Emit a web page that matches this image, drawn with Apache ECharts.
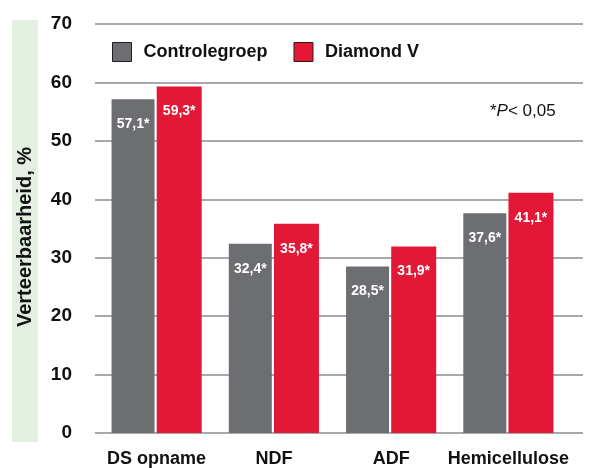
<!DOCTYPE html>
<html>
<head>
<meta charset="utf-8">
<script src="https://cdn.jsdelivr.net/npm/echarts@6/dist/echarts.min.js"></script>
<style>
  html, body { margin: 0; padding: 0; background: #fff; }
  #chart { width: 593px; height: 468px; }
</style>
</head>
<body>
<div id="chart"></div>
<script>
const categories = ['DS opname', 'NDF', 'ADF', 'Hemicellulose'];
const controlValues = [57.1, 32.4, 28.5, 37.6];
const diamondValues = [59.3, 35.8, 31.9, 41.1];
const yTicks = [0, 70, 10]; // min, max, interval

const FONT = '"Liberation Sans", Arial, sans-serif';
const GREY = '#6d6e71';
const RED = '#e31837';

const fmt = (p) => p.value.toFixed(1).replace('.', ',') + '*';

const barLabel = {
  show: true,
  position: 'insideTop',
  distance: 18,
  color: '#fff',
  fontFamily: FONT,
  fontWeight: 'bold',
  fontSize: 14,
  formatter: fmt,
};

const chart = echarts.init(document.getElementById('chart'), null, { renderer: 'canvas' });

chart.setOption({
  animation: false,
  backgroundColor: '#fff',
  graphic: [
    {
      type: 'rect',
      left: 12, top: 20,
      shape: { width: 26, height: 422 },
      style: { fill: '#e3efe1' },
      z: -1,
    },
    {
      type: 'text',
      x: 25, y: 237,
      rotation: Math.PI / 2,
      style: {
        text: 'Verteerbaarheid, %',
        fontFamily: FONT,
        fontWeight: 'bold',
        fontSize: 20,
        fill: '#111',
        align: 'center',
        verticalAlign: 'middle',
      },
    },
    {
      type: 'text',
      left: 490, top: 103,
      style: {
        rich: {
          n: { fontFamily: FONT, fontSize: 17, fill: '#111' },
          i: { fontFamily: FONT, fontSize: 17, fontStyle: 'italic', fill: '#111' },
        },
        text: '{n|*}{i|P}{n|< 0,05}',
      },
    },
  ],
  legend: {
    left: 112, top: 42,
    padding: 0,
    itemWidth: 19, itemHeight: 19,
    itemGap: 26,
    icon: 'rect',
    data: ['Controlegroep', 'Diamond V'],
    itemStyle: { borderColor: '#231f20', borderWidth: 1 },
    textStyle: {
      fontFamily: FONT,
      fontWeight: 'bold',
      fontSize: 18,
      color: '#111',
      padding: [0, 0, 0, 7],
    },
  },
  grid: [
    { left: 95, right: 10, top: 24, bottom: 35 },
    { left: 98, right: 26, top: 24, bottom: 35 },
  ],
  xAxis: [
    { gridIndex: 0, type: 'value', show: false },
    {
      gridIndex: 1,
      type: 'category',
      data: categories,
      axisLine: { show: false },
      axisTick: { show: false },
      axisLabel: {
        interval: 0,
        margin: 17,
        fontFamily: FONT,
        fontWeight: 'bold',
        fontSize: 18,
        color: '#111',
      },
    },
  ],
  yAxis: [
    {
      gridIndex: 0,
      type: 'value',
      min: yTicks[0], max: yTicks[1], interval: yTicks[2],
      axisLine: { show: false },
      axisTick: { show: false },
      axisLabel: {
        margin: 23,
        fontFamily: FONT,
        fontWeight: 'bold',
        fontSize: 19,
        color: '#111',
      },
      splitLine: { lineStyle: { color: '#a7a9ac', width: 2 } },
    },
    {
      gridIndex: 1,
      type: 'value',
      min: yTicks[0], max: yTicks[1], interval: yTicks[2],
      show: false,
      splitLine: { show: false },
    },
  ],
  series: [
    {
      name: 'Controlegroep',
      type: 'bar',
      xAxisIndex: 1, yAxisIndex: 1,
      data: controlValues,
      barWidth: 43,
      barGap: '5%',
      itemStyle: { color: GREY },
      label: barLabel,
    },
    {
      name: 'Diamond V',
      type: 'bar',
      xAxisIndex: 1, yAxisIndex: 1,
      data: diamondValues,
      barWidth: 45,
      itemStyle: { color: RED },
      label: barLabel,
    },
  ],
});
</script>
</body>
</html>
